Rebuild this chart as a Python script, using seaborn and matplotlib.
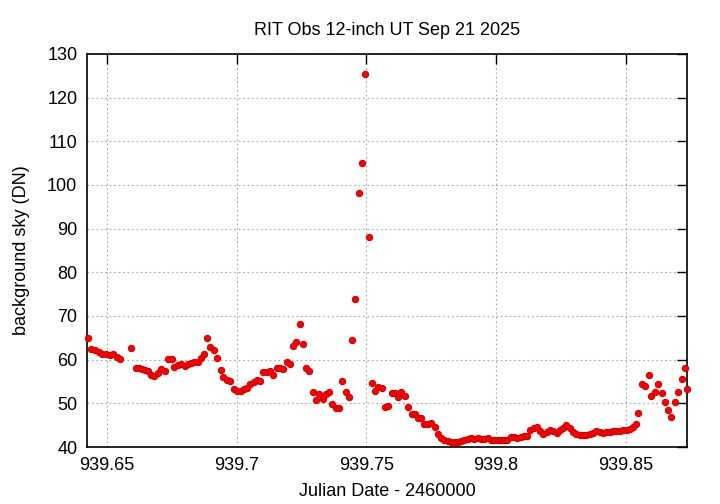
import matplotlib
matplotlib.use("Agg")
import matplotlib.pyplot as plt
import seaborn as sns
import pandas as pd

julian_date = [
    939.6425, 939.6440, 939.6453, 939.6468, 939.6481, 939.6496, 939.6510, 939.6525, 939.6539, 939.6552,
    939.6594, 939.6610, 939.6622, 939.6635, 939.6648, 939.6658, 939.6670, 939.6683, 939.6696, 939.6708,
    939.6722, 939.6734, 939.6749, 939.6760, 939.6773, 939.6786, 939.6799, 939.6812, 939.6824, 939.6837,
    939.6850, 939.6862, 939.6875, 939.6886, 939.6899, 939.6912, 939.6924, 939.6938, 939.6949, 939.6963,
    939.6976, 939.6988, 939.7002, 939.7015, 939.7027, 939.7039, 939.7052, 939.7065, 939.7078, 939.7091,
    939.7102, 939.7115, 939.7128, 939.7141, 939.7154, 939.7167, 939.7180, 939.7193, 939.7205, 939.7217,
    939.7230, 939.7243, 939.7256, 939.7267, 939.7280, 939.7293, 939.7306, 939.7319, 939.7332, 939.7344,
    939.7357, 939.7369, 939.7382, 939.7395, 939.7407, 939.7420, 939.7433, 939.7445, 939.7456, 939.7471,
    939.7482, 939.7496, 939.7509, 939.7521, 939.7534, 939.7546, 939.7559, 939.7571, 939.7584, 939.7598,
    939.7610, 939.7622, 939.7635, 939.7648, 939.7661, 939.7674, 939.7687, 939.7700, 939.7712, 939.7724,
    939.7737, 939.7750, 939.7763, 939.7776, 939.7788, 939.7801, 939.7814, 939.7827, 939.7840, 939.7853,
    939.7866, 939.7878, 939.7892, 939.7903, 939.7916, 939.7929, 939.7942, 939.7954, 939.7967, 939.7980,
    939.7993, 939.8006, 939.8019, 939.8032, 939.8043, 939.8056, 939.8069, 939.8082, 939.8095, 939.8108,
    939.8120, 939.8132, 939.8145, 939.8158, 939.8171, 939.8182, 939.8195, 939.8208, 939.8221, 939.8234,
    939.8247, 939.8259, 939.8271, 939.8284, 939.8297, 939.8310, 939.8322, 939.8336, 939.8348, 939.8361,
    939.8374, 939.8387, 939.8400, 939.8413, 939.8425, 939.8438, 939.8451, 939.8464, 939.8477, 939.8490,
    939.8503, 939.8515, 939.8526, 939.8539, 939.8549, 939.8562, 939.8575, 939.8588, 939.8599, 939.8612,
    939.8625, 939.8638, 939.8651, 939.8664, 939.8676, 939.8689, 939.8702, 939.8715, 939.8727, 939.8736,
]

sky_dn = [
    64.9, 62.4, 62.2, 61.7, 61.2, 61.2, 61.0, 61.3, 60.5, 60.2,
    62.6, 58.1, 58.1, 57.8, 57.6, 57.5, 56.6, 56.2, 56.9, 57.9,
    57.4, 60.1, 60.1, 58.4, 58.8, 59.1, 58.5, 59.1, 59.2, 59.4,
    59.4, 60.4, 61.3, 65.0, 62.8, 62.1, 60.4, 57.7, 56.1, 55.3,
    55.0, 53.2, 52.9, 52.9, 53.3, 53.5, 54.4, 54.9, 55.3, 55.1,
    57.1, 57.2, 57.3, 56.4, 58.0, 58.2, 57.8, 59.4, 59.1, 63.1,
    64.0, 68.2, 63.7, 58.2, 57.5, 52.5, 50.7, 52.2, 51.1, 52.1,
    52.5, 49.9, 48.9, 48.9, 55.0, 52.5, 51.4, 64.4, 73.9, 98.2,
    105.0, 125.5, 88.0, 54.6, 52.8, 53.8, 53.5, 49.1, 49.3, 52.4,
    52.3, 51.5, 52.6, 51.7, 49.1, 47.6, 47.6, 46.6, 46.6, 45.3,
    45.2, 45.6, 44.5, 42.9, 42.0, 41.6, 41.4, 41.1, 41.1, 41.2,
    41.4, 41.6, 41.8, 42.0, 41.9, 42.0, 41.9, 41.9, 42.0, 41.7,
    41.6, 41.6, 41.7, 41.5, 41.6, 42.2, 42.4, 42.1, 42.3, 42.5,
    42.5, 43.9, 44.3, 44.5, 43.6, 43.0, 43.4, 44.0, 43.7, 43.2,
    44.0, 44.4, 45.1, 44.4, 43.4, 43.0, 42.7, 42.7, 42.7, 43.0,
    43.2, 43.6, 43.4, 43.3, 43.4, 43.5, 43.6, 43.6, 43.7, 43.9,
    44.0, 44.2, 44.5, 45.3, 47.8, 54.4, 53.9, 56.6, 51.7, 52.5,
    54.4, 52.4, 50.2, 48.5, 46.9, 50.2, 52.6, 55.6, 58.2, 53.3,
]

x_ticks = [939.65, 939.7, 939.75, 939.8, 939.85]
x_tick_labels = ["939.65", "939.7", "939.75", "939.8", "939.85"]
y_ticks = [40, 50, 60, 70, 80, 90, 100, 110, 120, 130]

df = pd.DataFrame({"jd": julian_date, "sky": sky_dn})

sns.set_theme(style="white")
plt.rcParams["font.family"] = ["Liberation Sans", "DejaVu Sans"]

fig = plt.figure(figsize=(7.2, 5.04), dpi=100)
ax = fig.add_axes([87 / 720, 1 - 447 / 504, 600 / 720, 393 / 504])

sns.scatterplot(data=df, x="jd", y="sky", ax=ax, color="#ff0000",
                edgecolor="#d00000", linewidth=0.8, s=20, zorder=3, legend=False,
                clip_on=False)

ax.set_xlim(939.6423, 939.8736)
ax.set_ylim(40, 130)
ax.set_xticks(x_ticks)
ax.set_xticklabels(x_tick_labels)
ax.set_yticks(y_ticks)

ax.grid(True, color="#a8a8a8", linestyle=(0, (1.5, 2.5)), linewidth=0.8)
ax.set_axisbelow(True)
for sp in ax.spines.values():
    sp.set_color("black")
    sp.set_linewidth(1.2)

ax.tick_params(direction="in", length=7, width=1, color="black",
               top=True, right=True, labelsize=13, pad=7, labelcolor="black")

ax.set_xlabel("Julian Date - 2460000", fontsize=13, color="black", labelpad=7)
ax.set_ylabel("background sky (DN)", fontsize=13, color="black", labelpad=12)
ax.set_title("RIT Obs 12-inch UT Sep 21 2025", fontsize=13, color="black", pad=14)

fig.savefig("out.png", dpi=100, facecolor="white")
